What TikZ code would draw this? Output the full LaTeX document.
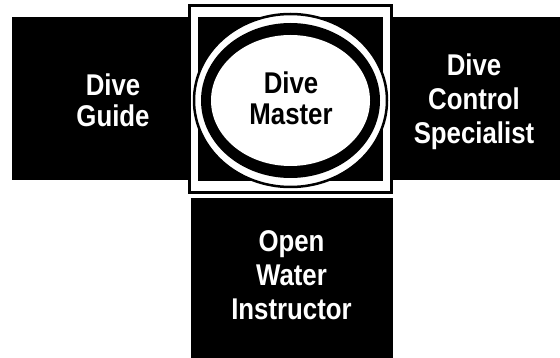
\documentclass[tikz,border=0pt]{standalone}
\usepackage{fontspec}
\newfontfamily\lblfont[FakeStretch=0.86]{Liberation Sans}
\begin{document}
\begin{tikzpicture}[x=1pt,y=-1pt,
  lbl/.style={text=white, font=\lblfont\bfseries\fontsize{30}{34}\selectfont, align=center, inner sep=0pt, anchor=north},
  lbltight/.style={lbl, font=\lblfont\bfseries\fontsize{30}{31}\selectfont},
  blk/.style={fill=black}]
\useasboundingbox (0,0) rectangle (560,358);
\fill[white] (0,0) rectangle (560,358);
% side and bottom boxes
\fill[blk] (12,17) rectangle (214,180);
\fill[blk] (367,17) rectangle (560,180);
\fill[blk] (191,198) rectangle (393.3,358);
% centre frame
\filldraw[fill=white, draw=black, line width=3pt] (189.8,5.5) rectangle (391.8,192.5);
\fill[blk] (198,17.5) rectangle (383,181);
% ellipses
\filldraw[fill=white, draw=black, line width=2.5pt] (290.5,100.5) ellipse [x radius=96.5pt, y radius=86.5pt];
\fill[blk] (290.5,100.5) ellipse [x radius=89.5pt, y radius=77.5pt];
\fill[white] (290.5,100.5) ellipse [x radius=79.5pt, y radius=65.5pt];
% labels
\node[lbltight] (guide) at (113,73.3) {Dive\\Guide};
\node[lbltight, text=black] (master) at (291,71.7) {Dive\\Master};
\node[lbl] (dcs) at (474,54) {Dive\\Control\\Specialist};
\node[lbl] (owi) at (291.5,230) {Open\\Water\\Instructor};
\end{tikzpicture}
\end{document}
